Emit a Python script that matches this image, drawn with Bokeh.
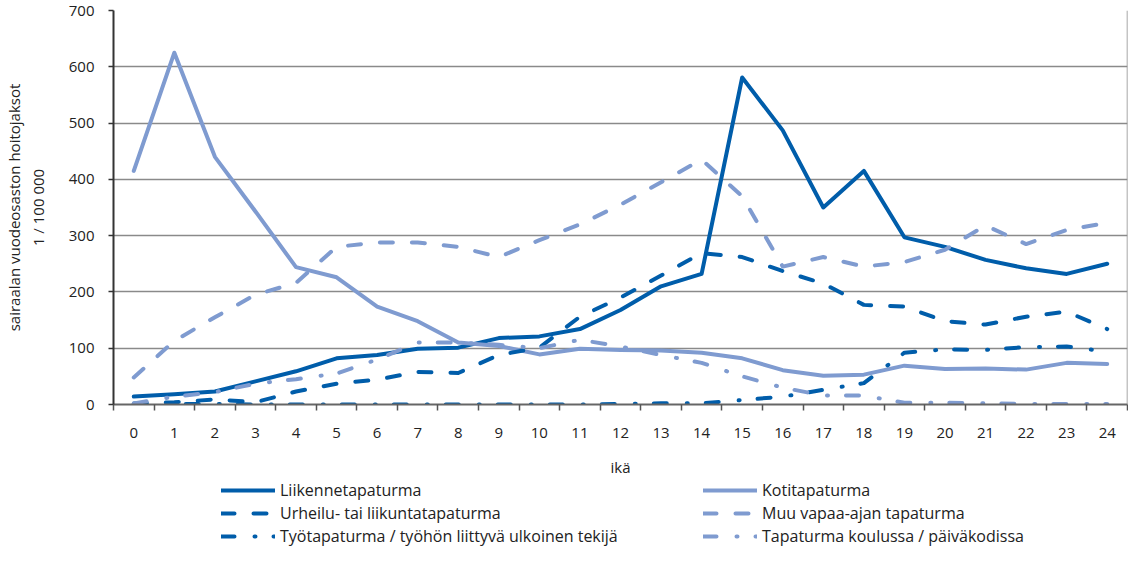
from bokeh.plotting import figure
from bokeh.layouts import column
from bokeh.models import FixedTicker, Legend, LegendItem, Span, Range1d
from bokeh.embed import file_html
from bokeh.resources import INLINE

ages = list(range(25))
age_labels = [str(a) for a in ages]

liikenne = [14, 18, 23, 41, 59, 82, 88, 99, 101, 118, 121, 134, 168, 210, 232,
            581, 487, 350, 415, 297, 280, 257, 242, 232, 250]
koti = [415, 625, 440, 343, 244, 226, 174, 148, 110, 104, 89, 99, 97, 96, 92,
        82, 61, 51, 53, 69, 63, 64, 62, 74, 72]
urheilu = [2, 4, 9, 4, 23, 37, 44, 58, 56, 88, 101, 156, 190, 229, 269,
           262, 237, 215, 177, 174, 148, 142, 156, 165, 134]
muu = [48, 113, 155, 195, 216, 280, 288, 288, 280, 262, 292, 320, 355, 395, 435,
       370, 245, 262, 245, 253, 275, 318, 285, 310, 323]
tyo = [0, 1, 1, 0, 0, 0, 0, 0, 0, 0, 0, 0, 1, 2, 2,
       8, 14, 26, 38, 92, 98, 97, 102, 103, 94]
koulu = [2, 14, 22, 37, 45, 55, 80, 110, 110, 106, 100, 115, 103, 88, 74,
         50, 30, 16, 16, 3, 3, 2, 1, 1, 1]

series_names = ["Liikennetapaturma", "Kotitapaturma", "Urheilu- tai liikuntatapaturma",
                "Muu vapaa-ajan tapaturma", "Työtapaturma / työhön liittyvä ulkoinen tekijä",
                "Tapaturma koulussa / päiväkodissa"]

DARK = "#005daa"
LIGHT = "#7f9bd0"
FONT = "Open Sans"
TXT = "#222222"
FS = "15px"

LONG = "13 19"
DASHDOT = "13 20 1 18"
W = 4
styles = [
    dict(line_color=DARK, line_dash="solid"),
    dict(line_color=LIGHT, line_dash="solid"),
    dict(line_color=DARK, line_dash=LONG),
    dict(line_color=LIGHT, line_dash=LONG),
    dict(line_color=DARK, line_dash=DASHDOT),
    dict(line_color=LIGHT, line_dash=DASHDOT),
]
values = [liikenne, koti, urheilu, muu, tyo, koulu]

p = figure(width=1128, height=479, output_backend="svg", toolbar_location=None,
           x_range=Range1d(-0.5, 24.5), y_range=Range1d(0, 700),
           min_border_left=102, min_border_right=1, min_border_top=10,
           min_border_bottom=75)
p.outline_line_color = None

xa = p.xaxis[0]
xa.ticker = FixedTicker(ticks=ages, minor_ticks=[i - 0.5 for i in range(26)])
xa.major_label_overrides = {a: l for a, l in zip(ages, age_labels)}
xa.major_tick_line_color = None
xa.major_tick_out = 0
xa.major_tick_in = 0
xa.minor_tick_out = 6
xa.minor_tick_in = 0
xa.minor_tick_line_color = "#555555"
xa.minor_tick_line_width = 1.5
xa.axis_line_color = "#666666"
xa.axis_line_width = 2
xa.major_label_standoff = 17
xa.major_label_text_font = FONT
xa.major_label_text_font_size = FS
xa.major_label_text_color = TXT
xa.axis_label = "ikä"
xa.axis_label_text_font = FONT
xa.axis_label_text_font_size = FS
xa.axis_label_text_font_style = "normal"
xa.axis_label_text_color = TXT
xa.axis_label_standoff = 16

ya = p.yaxis[0]
ya.ticker = FixedTicker(ticks=[0, 100, 200, 300, 400, 500, 600, 700])
ya.minor_tick_line_color = None
ya.major_tick_out = 5
ya.major_tick_in = 0
ya.major_tick_line_color = "#333333"
ya.major_tick_line_width = 1.5
ya.axis_line_color = "#333333"
ya.axis_line_width = 2
ya.major_label_standoff = 14
ya.major_label_text_font = FONT
ya.major_label_text_font_size = FS
ya.major_label_text_color = TXT
ya.axis_label = "sairaalan vuodeosaston hoitojaksot\n1 / 100 000"
ya.axis_label_text_font = FONT
ya.axis_label_text_font_size = FS
ya.axis_label_text_font_style = "normal"
ya.axis_label_text_color = TXT
ya.axis_label_standoff = 18

p.xgrid.grid_line_color = None
p.ygrid.grid_line_color = "#8a8a8a"
p.ygrid.grid_line_width = 1.5
p.add_layout(Span(location=24.5, dimension="height", line_color="#8a8a8a", line_width=1.5))

for vals, st in zip(values, styles):
    p.line(ages, vals, line_width=W, line_cap="round", line_join="round", **st)

# legend panel below the chart (same series, drawn outside its visible range)
lf = figure(width=1128, height=68, output_backend="svg", toolbar_location=None,
            x_range=Range1d(1000, 1001), y_range=Range1d(1000, 1001),
            min_border_left=102, min_border_right=1, min_border_top=0, min_border_bottom=0)
lf.axis.visible = False
lf.grid.visible = False
lf.outline_line_color = None
lr = [lf.line(ages, vals, line_width=W, line_cap="round", line_join="round", **st)
      for vals, st in zip(values, styles)]


def make_legend(idx, loc):
    lg = Legend(items=[LegendItem(label=series_names[i], renderers=[lr[i]]) for i in idx],
                location=loc)
    lg.border_line_color = None
    lg.background_fill_alpha = 0
    lg.padding = 0
    lg.margin = 0
    lg.spacing = 1
    lg.glyph_width = 54
    lg.glyph_height = 20
    lg.label_height = 20
    lg.label_standoff = 5
    lg.label_text_font = FONT
    lg.label_text_font_size = "16px"
    lg.label_text_color = TXT
    return lg


lf.add_layout(make_legend([0, 2, 4], (108, 0)), "center")
lf.add_layout(make_legend([1, 3, 5], (590, 0)), "center")

layout = column(p, lf, spacing=0)
open("out.html", "w").write(file_html(layout, INLINE))
